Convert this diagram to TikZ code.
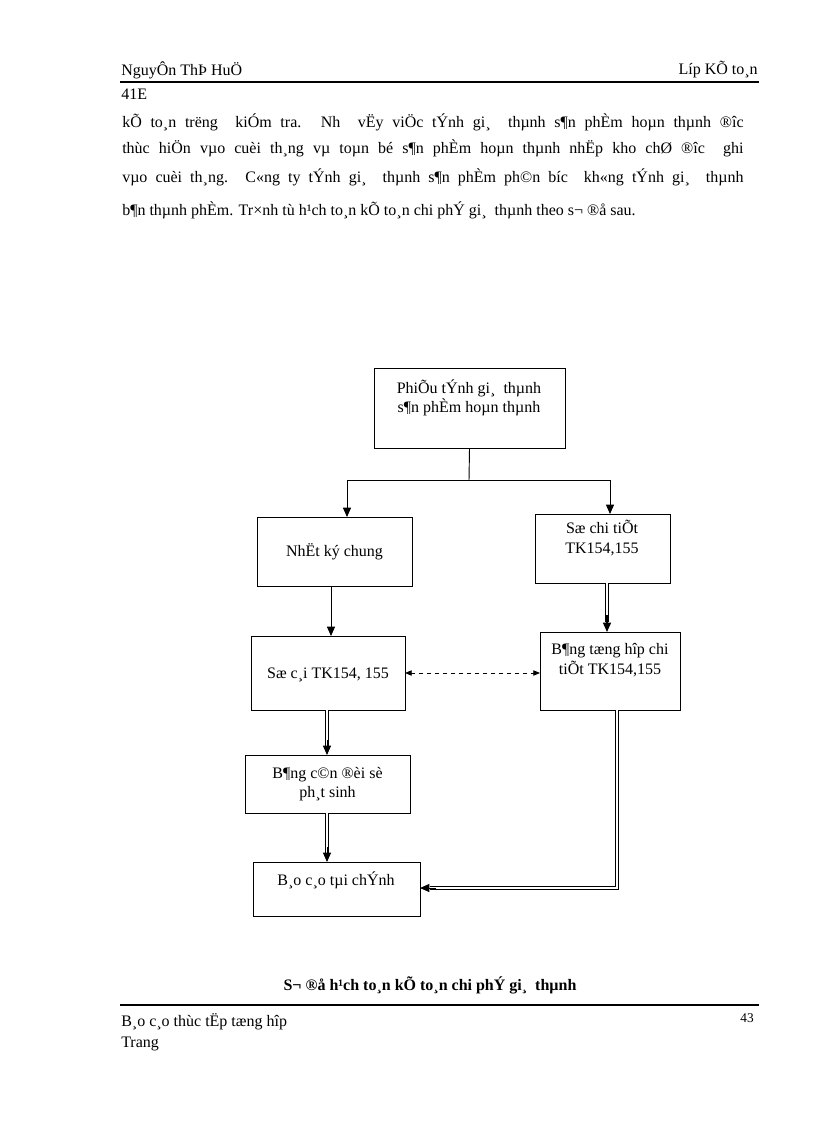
\documentclass[tikz,border=0pt]{standalone}
\usepackage{fontspec}
\setmainfont{Liberation Serif}
\usetikzlibrary{fit,arrows.meta}
\begin{document}
\begin{tikzpicture}[x=0.75pt,y=-0.75pt,
  box/.style={draw,line width=0.7pt,inner sep=0pt},
  txt/.style={font=\fontsize{12}{14.5}\selectfont,align=center,inner sep=0pt},
  body/.style={font=\fontsize{12}{14}\selectfont,anchor=west,inner sep=0pt},
  conn/.style={line width=0.7pt},
  dbl/.style={double,double distance=1.4pt,line width=0.5pt},
  tip/.style={-{Triangle[length=7pt,width=6pt]},line width=0.7pt}]
\useasboundingbox (0,0) rectangle (816,1123);
% header
\node[body] (h1) at (121,70) {NguyÔn ThÞ HuÖ};
\node[body,anchor=east] (h2) at (758,70) {Líp KÕ to¸n};
\draw[line width=0.8pt] (120,82) -- (759,82);
\node[body] (h3) at (121,94) {41E};
\node[body] (p1) at (122,122) {\makebox[466pt][s]{kÕ to¸n trëng \ kiÓm tra. Nh \ vËy viÖc tÝnh gi¸ \ thµnh s¶n phÈm hoµn thµnh ®îc}};
\node[body] (p2) at (122,148) {\makebox[466pt][s]{thùc hiÖn vµo cuèi th¸ng vµ toµn bé s¶n phÈm hoµn thµnh nhËp kho chØ ®îc \ ghi}};
\node[body] (p3) at (122,177) {\makebox[466pt][s]{vµo cuèi th¸ng. C«ng ty tÝnh gi¸ \ thµnh s¶n phÈm ph©n bíc \ kh«ng tÝnh gi¸ \ thµnh}};
\node[body] (p4) at (122,210) {b¶n thµnh phÈm. Tr×nh tù h¹ch to¸n kÕ to¸n chi phÝ gi¸ \ thµnh theo s¬ ®å sau.};
% boxes
\node[box,fit={(374,368)(565,448)}] (a) {};
\node[txt] at (469,398) {PhiÕu tÝnh gi¸ \ thµnh\\s¶n phÈm hoµn thµnh};
\node[box,fit={(257,517)(412,586)}] (b) {};
\node[txt] at (b.center) {NhËt ký chung};
\node[box,fit={(535,514)(670,583)}] (c) {};
\node[txt] at (602,538) {Sæ chi tiÕt\\TK154,155};
\node[box,fit={(251,636)(405,710)}] (d) {};
\node[txt] at (328,675) {Sæ c¸i TK154, 155};
\node[box,fit={(540,632)(680,710)}] (e) {};
\node[txt] at (610,660) {B¶ng tæng hîp chi\\tiÕt TK154,155};
\node[box,fit={(245,755)(410,813)}] (f) {};
\node[txt] at (f.center) {B¶ng c©n ®èi sè\\ph¸t sinh};
\node[box,fit={(253,862)(420,916)}] (g) {};
\node[txt] at (336,880) {B¸o c¸o tµi chÝnh};
% connectors
\coordinate (br) at (469,480);
\draw[conn] (a.south) -- (br);
\draw[tip] (br) -| (347,517);
\draw[tip] (br) -| (610,514);
\draw[tip] (331,586) -- (331,636);
\draw[dbl] (607,583) -- (607,622);
\draw[tip,line width=1pt] (607,615) -- (607,632);
\draw[dashed,{Triangle[length=5pt,width=4pt]}-{Triangle[length=5pt,width=4pt]},line width=0.6pt] (405,673) -- (540,673);
\draw[dbl] (327,710) -- (327,746);
\draw[tip] (327,740) -- (327,755);
\draw[dbl] (327,813) -- (327,853);
\draw[tip] (327,847) -- (327,862);
\coordinate (rt) at (617,888);
\draw[dbl] (617,710) -- (rt) -- (430,888);
\draw[tip] (436,888) -- (420,888);
% caption and footer
\node[txt,font=\bfseries\fontsize{12}{14}\selectfont] (cap) at (430,985) {S¬ ®å h¹ch to¸n kÕ to¸n chi phÝ gi¸ \ thµnh};
\draw[line width=0.8pt] (120,1005) -- (759,1005);
\node[body] (f1) at (121,1022) {B¸o c¸o thùc tËp tæng hîp};
\node[body] (f2) at (121,1044) {Trang};
\node[body,anchor=east,font=\fontsize{10}{12}\selectfont] (f3) at (754,1018) {43};
\end{tikzpicture}
\end{document}
